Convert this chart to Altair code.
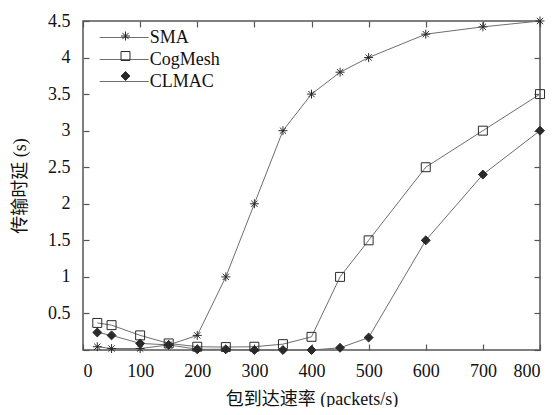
import altair as alt
import pandas as pd

# ---- data ----
x_vals = [25, 50, 100, 150, 200, 250, 300, 350, 400, 450, 500, 600, 700, 800]
sma = [0.045, 0.02, 0.02, 0.07, 0.2, 1.0, 2.0, 3.0, 3.5, 3.8, 4.0, 4.32, 4.42, 4.5]
cogmesh = [0.37, 0.34, 0.2, 0.09, 0.045, 0.04, 0.045, 0.08, 0.18, 1.0, 1.5, 2.5, 3.0, 3.5]
clmac = [0.24, 0.2, 0.09, 0.07, 0.01, 0.01, 0.0, 0.0, 0.0, 0.03, 0.17, 1.5, 2.4, 3.0]
series = ["SMA", "CogMesh", "CLMAC"]
x_ticks = [0, 100, 200, 300, 400, 500, 600, 700, 800]
y_ticks = [0, 0.5, 1, 1.5, 2, 2.5, 3, 3.5, 4, 4.5]
x_title = "包到达速率 (packets/s)"
y_title = "传输时延 (s)"

# second key for the marker legend (zero-width space keeps it separate)
series_m = [s + "\u200b" for s in series]

rows = []
for name, mname, vals in zip(series, series_m, [sma, cogmesh, clmac]):
    for xv, yv in zip(x_vals, vals):
        rows.append({"rate": xv, "delay": yv, "s1": name, "s2": mname})
df = pd.DataFrame(rows)

FONT = "'Liberation Serif', 'Times New Roman', 'Noto Sans CJK SC'"
LINE = "#6e6e6e"
MARK = "#2a2a2a"
STAR = "M-1,0L1,0M0,-1L0,1M-0.7,-0.7L0.7,0.7M-0.7,0.7L0.7,-0.7"
TICK = 6
LX, LY = 16, 6

xscale = alt.Scale(domain=[0, 800], nice=False, zero=False)
yscale = alt.Scale(domain=[0, 4.5], nice=False)

axis_common = dict(domain=False, grid=False, tickSize=TICK, offset=-TICK,
                   tickColor="#555", tickWidth=1.2,
                   labelFont=FONT, labelFontSize=18, labelColor="#111",
                   titleFont=FONT, titleFontSize=18, titleFontWeight="normal",
                   titleColor="#111")

base = alt.Chart(df)

lines = base.mark_line(strokeWidth=1).encode(
    x=alt.X("rate:Q", scale=xscale,
            axis=alt.Axis(orient="bottom", values=x_ticks, title=x_title,
                          labelPadding=12, titlePadding=10, **axis_common)),
    y=alt.Y("delay:Q", scale=yscale,
            axis=alt.Axis(orient="left", values=y_ticks, title=y_title,
                          labelExpr="datum.value == 0 ? '' : toString(datum.value)",
                          labelPadding=13, titlePadding=18, **axis_common)),
    color=alt.Color("s1:N", sort=series,
                    scale=alt.Scale(domain=series, range=[LINE] * 3),
                    legend=alt.Legend(orient="none", legendX=LX, legendY=LY,
                                      title=None, symbolType="M-2.5,0H2.5",
                                      symbolSize=384, symbolStrokeWidth=1,
                                      symbolOffset=14.7,
                                      labelFont=FONT, labelFontSize=18,
                                      labelColor="#111", labelOffset=15,
                                      rowPadding=2)),
)

marker_legend = alt.Legend(orient="none", legendX=LX, legendY=LY,
                           title=None, symbolSize=80,
                           symbolStrokeWidth=1,
                           symbolOffset=17.5, labelExpr="' '",
                           labelFont=FONT, labelFontSize=18, rowPadding=2)

points = base.mark_point(size=80, strokeWidth=1, opacity=1).encode(
    x=alt.X("rate:Q", scale=xscale,
            axis=alt.Axis(orient="top", values=x_ticks, labels=False, title=None,
                          **axis_common)),
    y=alt.Y("delay:Q", scale=yscale,
            axis=alt.Axis(orient="right", values=y_ticks, labels=False, title=None,
                          **axis_common)),
    shape=alt.Shape("s2:N", sort=series_m,
                    scale=alt.Scale(domain=series_m, range=[STAR, "square", "diamond"]),
                    legend=marker_legend),
    fill=alt.Fill("s2:N", sort=series_m,
                  scale=alt.Scale(domain=series_m, range=["transparent", "transparent", MARK]),
                  legend=marker_legend),
    stroke=alt.Stroke("s2:N", sort=series_m,
                      scale=alt.Scale(domain=series_m, range=[MARK, MARK, MARK]),
                      legend=marker_legend),
)

chart = alt.layer(lines, points).resolve_axis(
    x="independent", y="independent"
).properties(
    width=457, height=329,
    autosize=alt.AutoSizeParams(type="none"),
    padding={"left": 75, "top": 13, "right": 7, "bottom": 57},
    background="white",
).configure_view(stroke="#555", strokeWidth=1.5)

chart.save("out.html", embed_options={"renderer": "svg", "actions": False})
